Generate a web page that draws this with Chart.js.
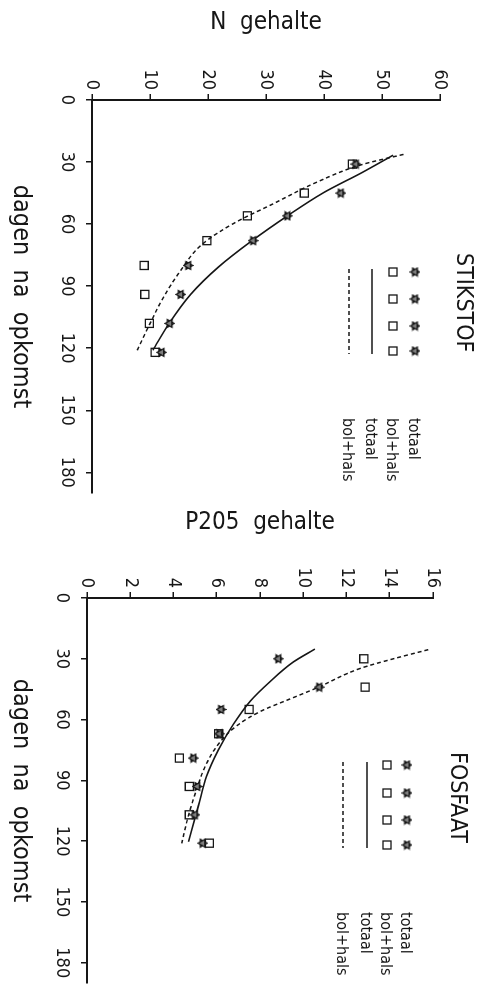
<!DOCTYPE html>
<html>
<head>
<meta charset="utf-8">
<title>Stikstof en fosfaat</title>
<script src="https://cdn.jsdelivr.net/npm/chart.js@4.4.1/dist/chart.umd.min.js"></script>
<style>
  html, body { margin: 0; padding: 0; background: #fff; }
  body { width: 488px; height: 990px; overflow: hidden; position: relative; }
  /* both charts are laid out side by side and turned a quarter clockwise */
  #sheet { position: absolute; left: 0; top: 0; width: 990px; height: 488px;
           transform-origin: 0 0; transform: translateX(488px) rotate(90deg); }
  #sheet canvas { position: absolute; top: 0; }
</style>
</head>
<body>
<div id="sheet">
  <canvas id="chartN" width="500" height="488" style="left:0"></canvas>
  <canvas id="chartP" width="490" height="488" style="left:500px"></canvas>
</div>
<script>
// sampling days (dagen na opkomst)
const dagenN = [31, 45, 56, 68, 80, 94, 108, 122];
const dagenP = [30, 44, 55, 67, 79, 93, 107, 121];

// N gehalte: whole plant and bulb + neck
const nTotaal = [45.5, 42.9, 33.7, 27.8, 16.6, 15.3, 13.4, 12.0];
const nBolHals = [44.9, 36.6, 26.8, 19.8, 9.0, 9.1, 9.9, 10.9];

// fitted N curves
const fitNTotaalDagen = [26.7, 35, 45, 56, 68, 81, 94, 108, 121];
const fitNTotaal = [51.9, 46.6, 39.8, 33.7, 27.6, 21.7, 17.0, 13.3, 10.5];
const fitNBolHalsDagen = [26.3, 31.5, 39.8, 50.1, 59.7, 70, 82.8, 95.5, 109.8, 121];
const fitNBolHals = [53.7, 46.2, 38.7, 31.3, 24.4, 18.9, 15.2, 12.3, 9.7, 7.8];

// P205 gehalte: whole plant and bulb + neck
const pTotaal = [8.85, 10.74, 6.2, 6.12, 4.92, 5.1, 4.99, 5.35];
const pBolHals = [12.8, 12.86, 7.5, 6.09, 4.27, 4.73, 4.73, 5.66];

// fitted P205 curves
const fitPTotaalDagen = [25.2, 31.6, 41.3, 51, 62.3, 75.1, 88, 102.6, 120.3];
const fitPTotaal = [10.54, 9.54, 8.46, 7.54, 6.77, 6.07, 5.53, 5.15, 4.69];
const fitPBolHalsDagen = [25.5, 30, 34.8, 44.5, 50.2, 55.8, 63.1, 71.1, 81.6, 94.5, 107.4, 121.1];
const fitPBolHals = [15.78, 14.17, 12.62, 10.6, 9.3, 8.05, 6.92, 6.15, 5.53, 5.07, 4.69, 4.38];

// axis ticks
const tickDagen = [0, 30, 60, 90, 120, 150, 180];
const tickN = [0, 10, 20, 30, 40, 50, 60];
const tickP = [0, 2, 4, 6, 8, 10, 12, 14, 16];

const INK = "#161616";
const FONT = "'DejaVu Sans Condensed', 'Liberation Sans Narrow', 'DejaVu Sans', sans-serif";

Chart.defaults.font.family = FONT;
Chart.defaults.color = INK;

// six-pointed star used as marker for "totaal"
function makeStar(size) {
  const c = document.createElement("canvas");
  c.width = size;
  c.height = size;
  const ctx = c.getContext("2d");
  const m = size / 2;
  const r = size / 2 - 1;
  ctx.strokeStyle = INK;
  ctx.lineWidth = 1.3;
  ctx.fillStyle = "#808080";
  for (let k = 0; k < 2; k++) {
    ctx.beginPath();
    for (let i = 0; i < 3; i++) {
      const a = ((k * 60 + i * 120 - 90) * Math.PI) / 180;
      const px = m + r * Math.cos(a);
      const py = m + r * Math.sin(a);
      if (i === 0) ctx.moveTo(px, py);
      else ctx.lineTo(px, py);
    }
    ctx.closePath();
    ctx.fill();
    ctx.stroke();
  }
  return c;
}
const star = makeStar(11);

function toXY(xs, ys) {
  return xs.map((x, i) => ({ x: x, y: ys[i] }));
}

function buildDatasets(dagen, totaal, bolHals, fitTd, fitT, fitBd, fitB) {
  return [
    {
      label: "totaal",
      data: toXY(dagen, totaal),
      pointStyle: star,
      pointRadius: 5,
      showLine: false,
    },
    {
      label: "bol+hals",
      data: toXY(dagen, bolHals),
      pointStyle: "rect",
      pointRadius: 5.7,
      borderColor: INK,
      borderWidth: 1.3,
      backgroundColor: "rgba(0,0,0,0)",
      showLine: false,
    },
    {
      label: "totaal",
      data: toXY(fitTd, fitT),
      showLine: true,
      borderColor: INK,
      borderWidth: 1.6,
      pointRadius: 0,
      cubicInterpolationMode: "monotone",
    },
    {
      label: "bol+hals",
      data: toXY(fitBd, fitB),
      showLine: true,
      borderColor: INK,
      borderWidth: 1.5,
      borderDash: [4, 3],
      pointRadius: 0,
      cubicInterpolationMode: "monotone",
    },
  ];
}

// legend block: heading, 4 rows of repeated symbols / line samples and a label
function legendPlugin(id, kop, pos) {
  return {
    id: id,
    afterDraw(chart) {
      const ctx = chart.ctx;
      const sets = chart.data.datasets;
      ctx.save();
      ctx.fillStyle = INK;
      ctx.strokeStyle = INK;
      ctx.textAlign = "left";
      ctx.textBaseline = "middle";
      ctx.font = "23px " + FONT;
      ctx.fillText(kop, pos.kopX, pos.kopY);

      ctx.font = "16px " + FONT;
      pos.rows.forEach((rowY, i) => {
        const set = sets[i];
        if (set.showLine) {
          ctx.lineWidth = set.borderWidth;
          ctx.setLineDash(set.borderDash || []);
          ctx.beginPath();
          ctx.moveTo(pos.symX[0] - 3, rowY);
          ctx.lineTo(pos.symX[pos.symX.length - 1] + 3, rowY);
          ctx.stroke();
          ctx.setLineDash([]);
        } else {
          pos.symX.forEach((sx) => {
            if (set.pointStyle === "rect") {
              ctx.lineWidth = 1.3;
              ctx.strokeRect(sx - 4, rowY - 4, 8, 8);
            } else {
              ctx.drawImage(set.pointStyle, sx - star.width / 2, rowY - star.height / 2);
            }
          });
        }
        ctx.fillText(set.label, pos.labelX, rowY + 2);
      });
      ctx.restore();
    },
  };
}

function makeChart(canvasId, cfg) {
  const ctx = document.getElementById(canvasId).getContext("2d");
  return new Chart(ctx, {
    type: "scatter",
    data: { datasets: cfg.datasets },
    options: {
      responsive: false,
      animation: false,
      events: [],
      layout: { padding: cfg.padding },
      plugins: { legend: { display: false }, tooltip: { enabled: false } },
      scales: {
        x: {
          type: "linear",
          position: "bottom",
          min: 0,
          max: 190,
          afterBuildTicks: (s) => {
            s.ticks = tickDagen.map((v) => ({ value: v }));
          },
          afterFit: (s) => {
            s.height = cfg.xHeight;
          },
          ticks: { font: { size: 18 }, padding: 9, maxRotation: 0 },
          grid: { drawOnChartArea: false, tickLength: 6, color: INK, lineWidth: 1.5 },
          border: { display: true, color: INK, width: 2 },
          title: {
            display: true,
            text: "dagen  na  opkomst",
            font: { size: 25 },
            padding: { top: 0, bottom: 6 },
          },
        },
        y: {
          type: "linear",
          min: 0,
          max: cfg.yMax,
          afterBuildTicks: (s) => {
            s.ticks = cfg.yTicks.map((v) => ({ value: v }));
          },
          afterFit: (s) => {
            s.width = cfg.yWidth;
          },
          ticks: { font: { size: 18 }, padding: 4 },
          grid: { drawOnChartArea: false, tickLength: 6, color: INK, lineWidth: 1.5 },
          border: { display: true, color: INK, width: 2 },
          title: {
            display: true,
            text: cfg.yTitle,
            font: { size: 24 },
            padding: { top: 8, bottom: 0 },
          },
        },
      },
    },
    plugins: [legendPlugin(canvasId + "Legend", cfg.kop, cfg.legend)],
  });
}

makeChart("chartN", {
  datasets: buildDatasets(dagenN, nTotaal, nBolHals, fitNTotaalDagen, fitNTotaal, fitNBolHalsDagen, fitNBolHals),
  padding: { left: 0, top: 48, right: 2, bottom: 0 },
  xHeight: 92,
  yWidth: 100,
  yMax: 60,
  yTicks: tickN,
  yTitle: "N  gehalte",
  kop: "STIKSTOF",
  legend: { kopX: 253, kopY: 25, rows: [73, 95, 116, 139], symX: [272, 299, 326, 351], labelX: 418 },
});

makeChart("chartP", {
  datasets: buildDatasets(dagenP, pTotaal, pBolHals, fitPTotaalDagen, fitPTotaal, fitPBolHalsDagen, fitPBolHals),
  padding: { left: 0, top: 55, right: 0, bottom: 0 },
  xHeight: 87,
  yWidth: 98,
  yMax: 16,
  yTicks: tickP,
  yTitle: "P205  gehalte",
  kop: "FOSFAAT",
  legend: { kopX: 252, kopY: 31, rows: [81, 101, 121, 145], symX: [265, 293, 320, 345], labelX: 412 },
});
</script>
</body>
</html>
